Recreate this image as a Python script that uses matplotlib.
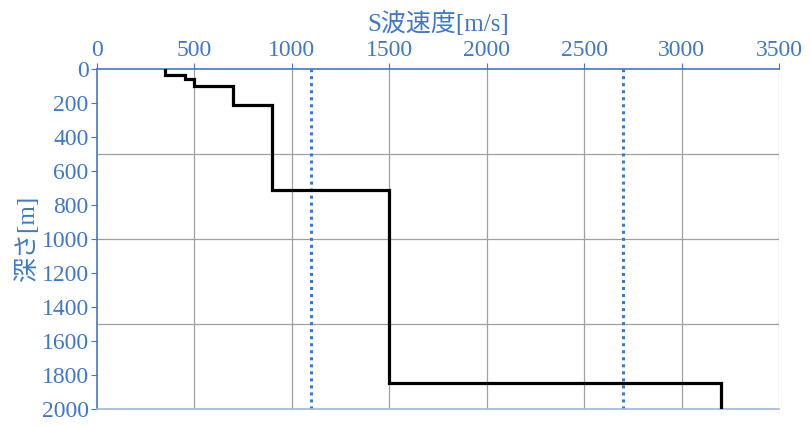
import numpy as np
import matplotlib.pyplot as plt

# S-wave velocity profile (layer velocity, layer top depth)
vs = [350, 450, 500, 700, 900, 1500, 3200]
layer_top = [0, 35, 60, 100, 210, 710, 1845]
max_depth = 2000
ref_lines = [1100, 2700]   # dotted reference velocities

x_ticks = np.arange(0, 3501, 500)
y_ticks = np.arange(0, 2001, 200)
y_grid = [500, 1000, 1500]

blue = '#3F78C8'
fam = ['Liberation Serif', 'Noto Sans CJK JP']
plt.rcParams['font.family'] = fam

fig = plt.figure(figsize=(8.1, 4.26), dpi=100)
ax = fig.add_axes([0.1198, 0.040, 0.8419, 0.798])

# build step path
bottoms = layer_top[1:] + [max_depth]
xs, ys = [], []
for v, t, b in zip(vs, layer_top, bottoms):
    xs += [v, v]
    ys += [t, b]

for v in x_ticks[1:]:
    ax.axvline(v, color='#a0a0a0', lw=0.9, zorder=1)
for d in y_grid:
    ax.axhline(d, color='#a0a0a0', lw=0.9, zorder=1)

for v in ref_lines:
    ax.axvline(v, color=blue, lw=2.2, linestyle=(0, (1, 1.3)), zorder=2)

ax.plot(xs, ys, color='k', lw=2.3, zorder=3, solid_joinstyle='miter')

ax.set_xlim(0, 3500)
ax.set_ylim(max_depth, 0)
ax.xaxis.tick_top()
ax.xaxis.set_label_position('top')
ax.set_xticks(x_ticks)
ax.set_yticks(y_ticks)
ax.tick_params(axis='both', colors=blue, labelsize=17, length=4, width=0.8, pad=2)
ax.tick_params(axis='x', labelcolor=blue)
ax.tick_params(axis='y', labelcolor=blue)

for s in ['top', 'left']:
    ax.spines[s].set_color(blue)
    ax.spines[s].set_linewidth(1.2)
ax.spines['bottom'].set_color('#9db7e0')
ax.spines['bottom'].set_linewidth(1.2)
ax.spines['right'].set_visible(False)

ax.set_xlabel('S波速度[m/s]', color=blue, fontsize=18, labelpad=6)
ax.set_ylabel('深さ[m]', color=blue, fontsize=18, labelpad=2)

fig.savefig('out.png', dpi=100)
